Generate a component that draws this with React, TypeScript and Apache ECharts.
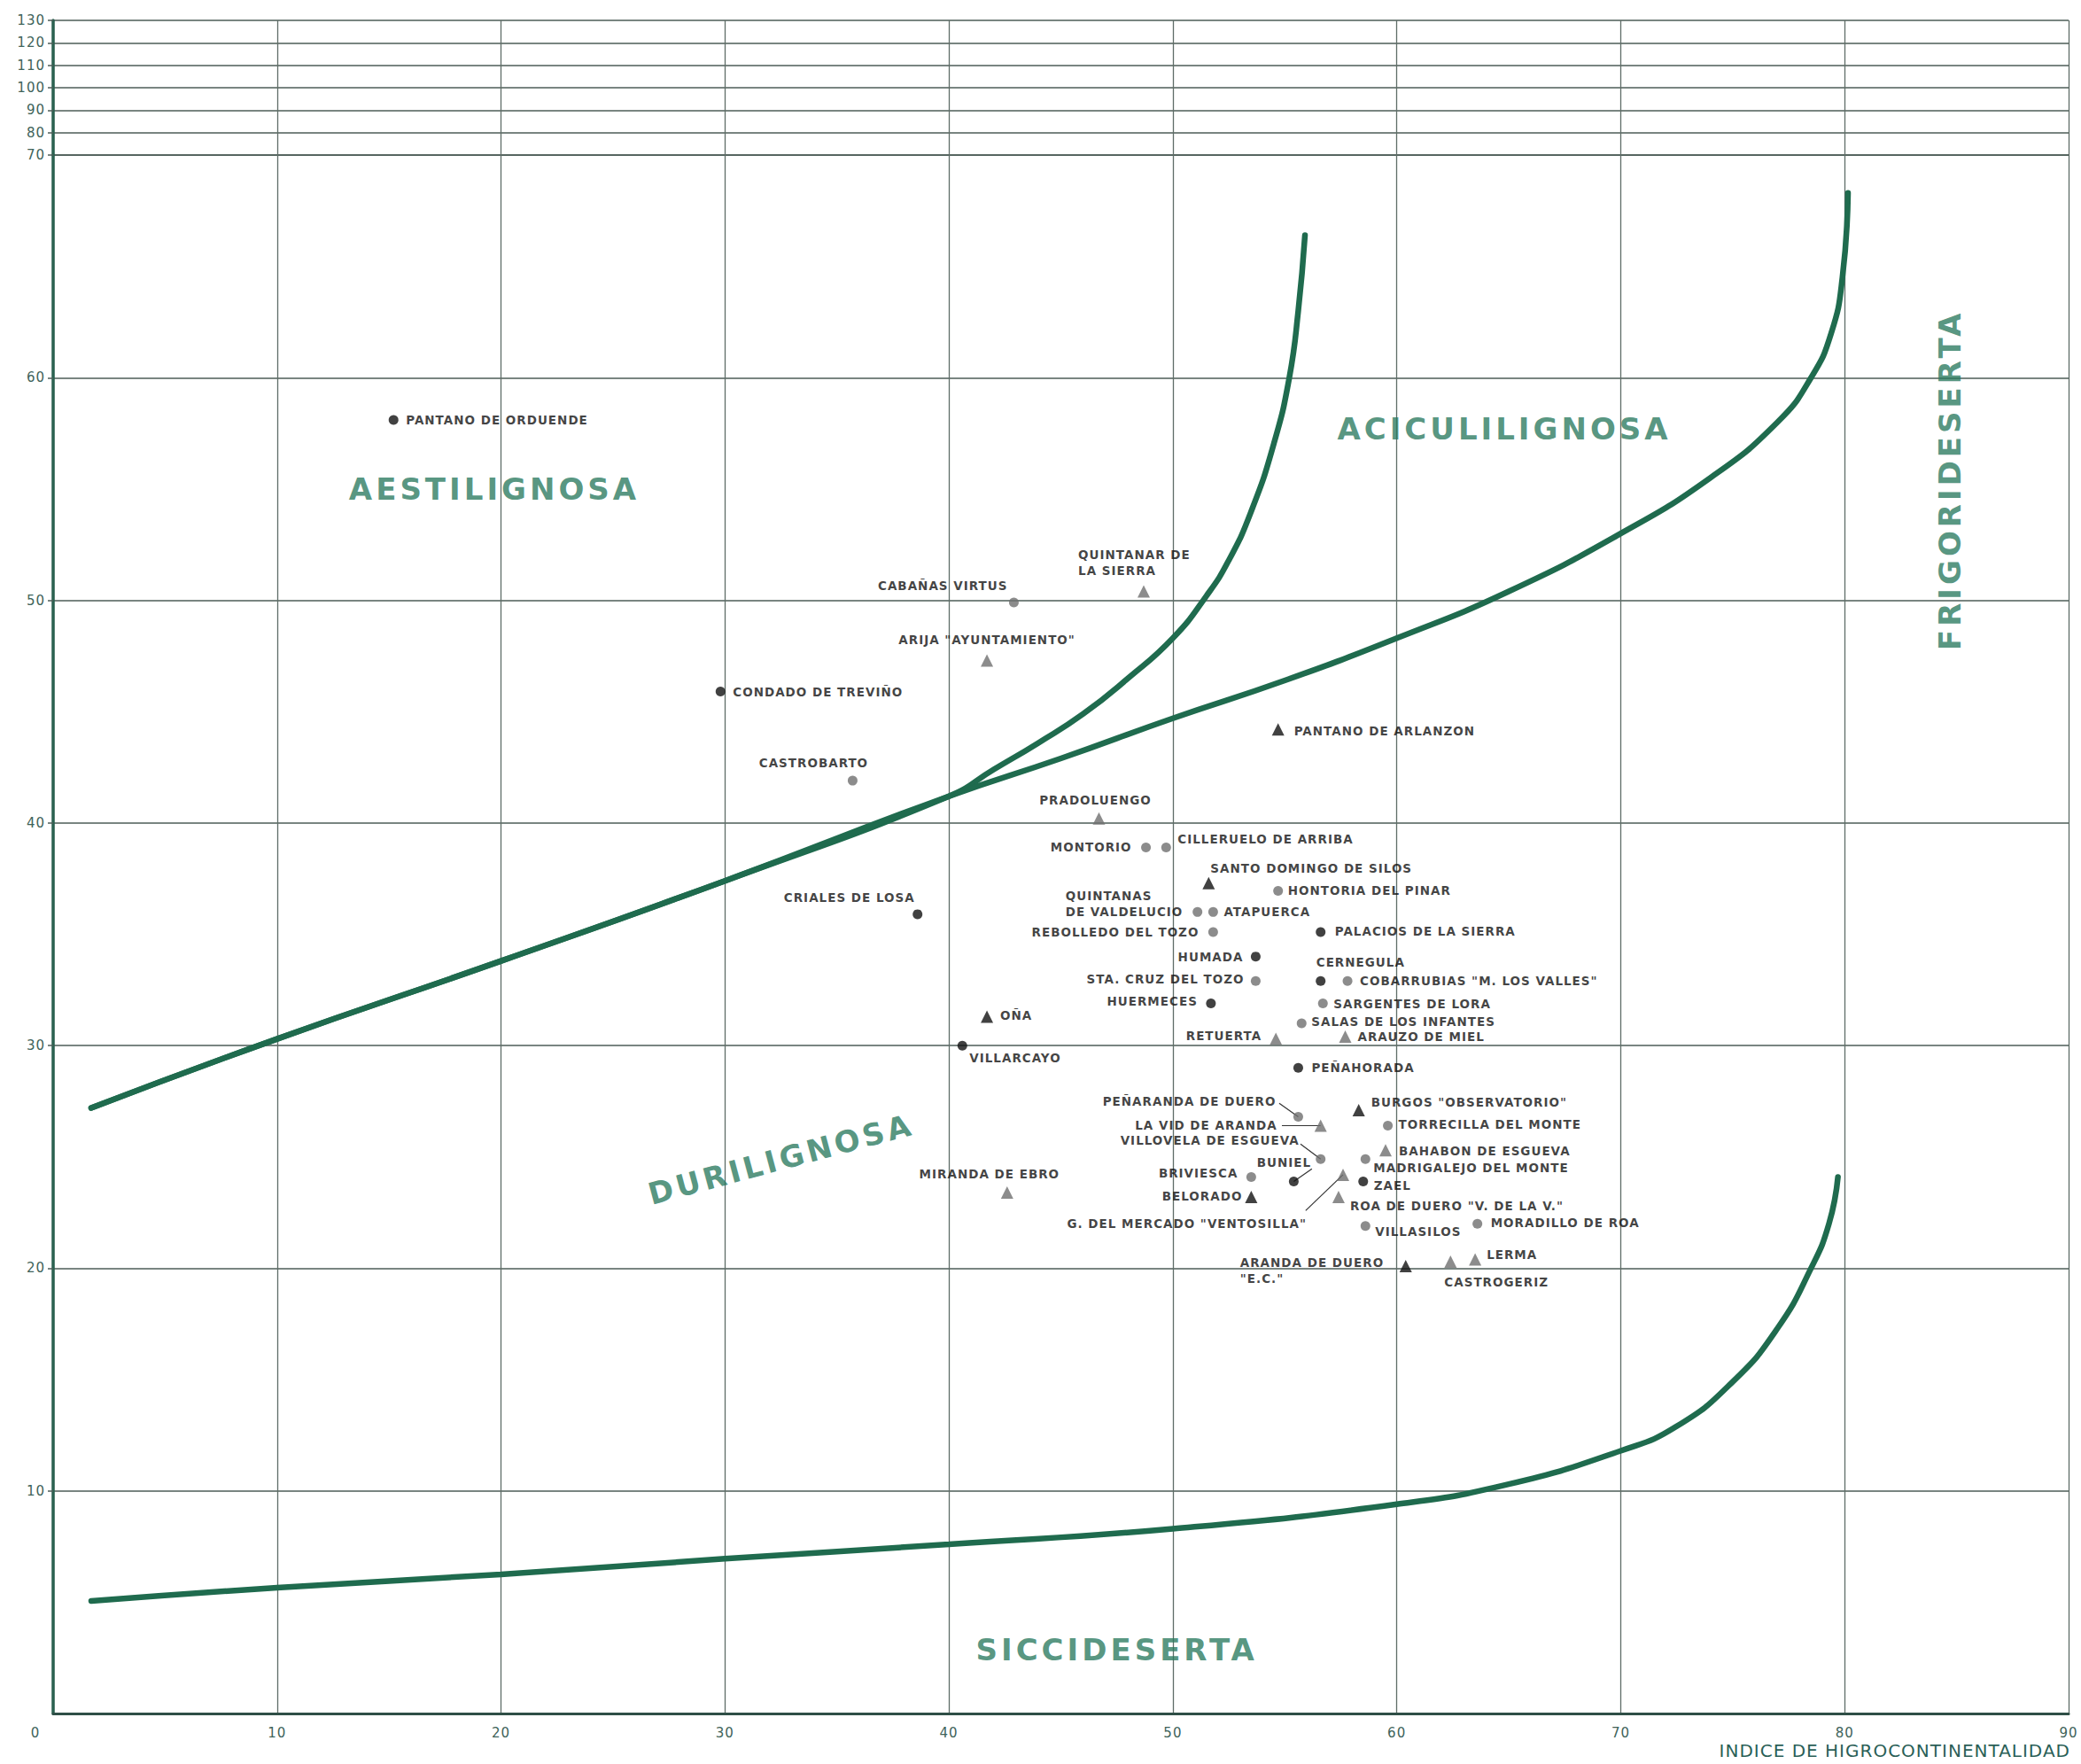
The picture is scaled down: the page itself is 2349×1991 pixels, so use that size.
import React, { useEffect, useRef } from 'react';
import * as echarts from 'echarts';

// ---------- DATA ----------
const stationNames = [
  'PANTANO DE ORDUENDE', 'CABAÑAS VIRTUS', 'QUINTANAR DE\nLA SIERRA', 'ARIJA "AYUNTAMIENTO"',
  'CONDADO DE TREVIÑO', 'CASTROBARTO', 'PANTANO DE ARLANZON', 'PRADOLUENGO',
  'MONTORIO', 'CILLERUELO DE ARRIBA', 'SANTO DOMINGO DE SILOS', 'HONTORIA DEL PINAR',
  'QUINTANAS\nDE VALDELUCIO', 'ATAPUERCA', 'REBOLLEDO DEL TOZO', 'PALACIOS DE LA SIERRA',
  'HUMADA', 'CERNEGULA', 'COBARRUBIAS "M. LOS VALLES"', 'STA. CRUZ DEL TOZO',
  'HUERMECES', 'SARGENTES DE LORA', 'SALAS DE LOS INFANTES', 'RETUERTA',
  'ARAUZO DE MIEL', 'OÑA', 'VILLARCAYO', 'CRIALES DE LOSA',
  'PEÑAHORADA', 'PEÑARANDA DE DUERO', 'BURGOS "OBSERVATORIO"', 'LA VID DE ARANDA',
  'TORRECILLA DEL MONTE', 'VILLOVELA DE ESGUEVA', 'BAHABON DE ESGUEVA', 'MADRIGALEJO DEL MONTE',
  'BUNIEL', 'BRIVIESCA', 'ZAEL', 'G. DEL MERCADO "VENTOSILLA"',
  'ROA DE DUERO "V. DE LA V."', 'BELORADO', 'VILLASILOS', 'MORADILLO DE ROA',
  'LERMA', 'CASTROGERIZ', 'ARANDA DE DUERO\n"E.C."', 'MIRANDA DE EBRO',
];
const stationX = [
  15.2, 42.9, 48.7, 41.7, 29.8, 35.7, 54.7, 46.7,
  48.8, 49.7, 51.6, 54.7, 51.1, 51.8, 51.8, 56.6,
  53.7, 56.6, 57.8, 53.7, 51.7, 56.7, 55.75, 54.6,
  57.7, 41.7, 40.6, 38.6, 55.6, 55.6, 58.3, 56.6,
  59.6, 56.6, 59.5, 58.6, 55.4, 53.5, 58.5, 57.6,
  57.4, 53.5, 58.6, 63.6, 63.5, 62.4, 60.4, 42.6,
];
const stationY = [
  58.1, 49.9, 50.4, 47.3, 45.9, 41.9, 44.2, 40.2,
  38.9, 38.9, 37.3, 36.95, 36.0, 36.0, 35.1, 35.1,
  34.0, 32.9, 32.9, 32.9, 31.9, 31.9, 31.0, 30.3,
  30.4, 31.3, 30.0, 35.9, 29.0, 26.8, 27.1, 26.4,
  26.4, 24.9, 25.3, 24.9, 23.9, 24.1, 23.9, 24.2,
  23.2, 23.2, 21.9, 22.0, 20.4, 20.3, 20.1, 23.4,
];
// bd = black dot, gd = grey dot, bt = black triangle, gt = grey triangle
const stationKind = [
  'bd', 'gd', 'gt', 'gt', 'bd', 'gd', 'bt', 'gt',
  'gd', 'gd', 'bt', 'gd', 'gd', 'gd', 'gd', 'bd',
  'bd', 'bd', 'gd', 'gd', 'bd', 'gd', 'gd', 'gt',
  'gt', 'bt', 'bd', 'bd', 'bd', 'gd', 'bt', 'gt',
  'gd', 'gd', 'gt', 'gd', 'bd', 'gd', 'bd', 'gt',
  'gt', 'bt', 'gd', 'gd', 'gt', 'gt', 'bt', 'gt',
];

// Boundary curves
const aciculiX = [1.7, 10, 20, 30, 40, 42, 44, 46, 48, 50, 51.5, 52.5, 53.5, 54.5, 55.2, 55.6, 55.9];
const aciculiY = [27.2, 30.3, 33.8, 37.4, 41.2, 42.4, 43.6, 44.9, 46.5, 48.3, 50.2, 51.8, 54.0, 57.0, 60.0, 63.0, 66.4];
const frigoriX = [1.7, 10, 20, 30, 40, 45, 50, 55, 60, 65, 70, 74, 77, 78.5, 79.4, 79.9, 80.15];
const frigoriY = [27.2, 30.3, 33.8, 37.4, 41.2, 42.9, 44.7, 46.4, 48.3, 50.4, 53.0, 55.5, 58.0, 60.0, 62.0, 64.5, 68.3];
const sicciX = [1.7, 10, 20, 30, 40, 50, 60, 65, 70, 72.5, 75, 77, 78.5, 79.3, 79.7];
const sicciY = [5.05, 5.65, 6.25, 6.95, 7.6, 8.3, 9.4, 10.3, 11.8, 12.9, 14.9, 17.3, 20.0, 22.0, 24.1];

// Region names
const regionNames = ['AESTILIGNOSA', 'ACICULILIGNOSA', 'DURILIGNOSA', 'SICCIDESERTA', 'FRIGORIDESERTA'];
const regionX = [19.7, 64.8, 32.5, 47.5, 84.7];
const regionY = [55.0, 57.7, 24.9, 2.86, 55.4];

// Leader lines (label end -> station)
const leaderStation = ['PEÑARANDA DE DUERO', 'LA VID DE ARANDA', 'VILLOVELA DE ESGUEVA', 'BUNIEL', 'G. DEL MERCADO "VENTOSILLA"'];
const leaderStartX = [54.75, 54.87, 55.7, 56.21, 55.93];
const leaderStartY = [27.41, 26.41, 25.58, 24.46, 22.59];

const xAxisTitle = 'INDICE DE HIGROCONTINENTALIDAD';

// ---------- STYLE ----------
const regionRotate = [0, 0, 15, 0, 90];
// label anchor offsets from marker centre [dx, dy, align]
const labelPlace: [number, number, string][] = [
  [14, 0, 'left'], [-7, -19, 'right'], [-74, -33, 'left'], [0, -23, 'center'],
  [14, 0, 'left'], [-44, -20, 'center'], [18, 2, 'left'], [-4, -21, 'center'],
  [-16, 0, 'right'], [13, -9, 'left'], [2, -17, 'left'], [11, 0, 'left'],
  [-149, -9, 'left'], [12, 0, 'left'], [-16, 0, 'right'], [16, -1, 'left'],
  [-14, 0, 'right'], [-5, -21, 'left'], [14, 0, 'left'], [-13, -2, 'right'],
  [-15, -2, 'right'], [12, 1, 'left'], [11, -2, 'left'], [-16, -4, 'right'],
  [14, 0, 'left'], [15, -1, 'left'], [8, 14, 'left'], [-3, -19, 'right'],
  [15, 0, 'left'], [-25, -18, 'right'], [14, -9, 'left'], [-49, -1, 'right'],
  [12, -2, 'left'], [-24, -21, 'right'], [15, 1, 'left'], [9, 10, 'left'],
  [-11, -21, 'center'], [-15, -4, 'right'], [12, 5, 'left'], [-41, 55, 'right'],
  [13, 10, 'left'], [-10, -1, 'right'], [11, 6, 'left'], [15, -1, 'left'],
  [13, -5, 'left'], [-7, 23, 'left'], [-187, 5, 'left'], [-20, -21, 'center'],
];

const GREEN = '#1f6b4e';
const REGION = '#2b7a5f';
const AXISTXT = '#40635a';
const FONT = 'DejaVu Sans';

function zip(xs: number[], ys: number[]) {
  return xs.map((x, i) => [x, ys[i]]);
}

function buildOption() {
  const stationData = stationNames.map((name, i) => {
    const tri = stationKind[i][1] === 't';
    const black = stationKind[i][0] === 'b';
    const [dx, dy, align] = labelPlace[i];
    return {
      name,
      value: [stationX[i], stationY[i]],
      symbol: tri ? 'triangle' : 'circle',
      symbolSize: tri ? 14 : 11,
      itemStyle: { color: black ? '#111111' : '#6f6f6f' },
      label: { position: ['50%', '50%'], offset: [dx, dy], align, verticalAlign: 'middle' },
    };
  });

  const regionData = regionNames.map((name, i) => ({
    name,
    value: [regionX[i], regionY[i]],
    label: { rotate: regionRotate[i] },
  }));

  const leaderData = leaderStation.map((st, i) => {
    const k = stationNames.indexOf(st);
    return { coords: [[leaderStartX[i], leaderStartY[i]], [stationX[k], stationY[k]]] };
  });

  const curve = (xs: number[], ys: number[], name: string) => ({
    type: 'line',
    name,
    xAxisIndex: 1,
    yAxisIndex: 1,
    data: zip(xs, ys),
    smooth: 0.5,
    symbol: 'none',
    silent: true,
    z: 2,
    lineStyle: { color: GREEN, width: 6.5, cap: 'round' },
  });

  const hLine = { color: '#4d5c57', width: 1.6 };
  const vLine = { color: '#5f6d68', width: 1.3 };

  return {
    animation: false,
    backgroundColor: '#ffffff',
    textStyle: { fontFamily: FONT },
    grid: [
      { left: 60, right: 14, top: 23, height: 152 },
      { left: 60, right: 14, top: 175, bottom: 57 },
    ],
    xAxis: [
      {
        gridIndex: 0, type: 'value', min: 0, max: 90, interval: 10,
        axisLine: { show: false }, axisTick: { show: false }, axisLabel: { show: false },
        splitLine: { show: true, lineStyle: vLine },
      },
      {
        gridIndex: 1, type: 'value', min: 0, max: 90, interval: 10,
        axisLine: { show: true, onZero: false, lineStyle: { color: '#2f4f47', width: 3 } },
        axisTick: { show: false },
        axisLabel: {
          color: AXISTXT, fontSize: 15, margin: 14, fontFamily: FONT,
          formatter: (v: number) => (v === 0 ? '{z|0}' : String(v)),
          rich: { z: { color: AXISTXT, fontSize: 15, fontFamily: FONT, padding: [0, 40, 0, 0] } },
        },
        splitLine: { show: true, lineStyle: vLine },
        name: xAxisTitle,
        nameLocation: 'end',
        nameGap: 2,
        nameTextStyle: {
          color: '#2b5f57', fontSize: 20, fontFamily: FONT,
          align: 'right', verticalAlign: 'top', padding: [32, 0, 0, 0],
        },
      },
    ],
    yAxis: [
      {
        gridIndex: 0, type: 'value', min: 70, max: 130, interval: 10,
        axisLine: { show: true, lineStyle: { color: '#2a6150', width: 3.5 } },
        axisTick: { show: true, length: 6, lineStyle: { color: '#4d5c57', width: 1.5 } },
        axisLabel: { color: AXISTXT, fontSize: 15, margin: 9, fontFamily: FONT },
        splitLine: { show: true, lineStyle: hLine },
      },
      {
        gridIndex: 1, type: 'value', min: 0, max: 70, interval: 10,
        axisLine: { show: true, onZero: false, lineStyle: { color: '#2a6150', width: 3.5 } },
        axisTick: { show: true, length: 6, lineStyle: { color: '#4d5c57', width: 1.5 } },
        axisLabel: { color: AXISTXT, fontSize: 15, margin: 9, fontFamily: FONT, showMinLabel: false, showMaxLabel: false },
        splitLine: { show: true, lineStyle: hLine },
      },
    ],
    series: [
      curve(aciculiX, aciculiY, 'aciculi'),
      curve(frigoriX, frigoriY, 'frigori'),
      curve(sicciX, sicciY, 'sicci'),
      {
        type: 'lines',
        coordinateSystem: 'cartesian2d',
        xAxisIndex: 1,
        yAxisIndex: 1,
        data: leaderData,
        symbol: 'none',
        silent: true,
        z: 3,
        lineStyle: { color: '#333333', width: 1.2, opacity: 1 },
      },
      {
        type: 'scatter',
        name: 'regions',
        xAxisIndex: 1,
        yAxisIndex: 1,
        data: regionData,
        symbolSize: 1,
        itemStyle: { color: 'rgba(0,0,0,0)' },
        silent: true,
        z: 4,
        label: {
          show: true, position: 'inside', formatter: '{b}',
          color: REGION, fontSize: 34, fontWeight: 'bold', fontFamily: FONT,
          align: 'center', verticalAlign: 'middle',
        },
      },
      {
        type: 'scatter',
        name: 'stations',
        xAxisIndex: 1,
        yAxisIndex: 1,
        data: stationData,
        silent: true,
        z: 5,
        label: {
          show: true, formatter: '{b}', color: '#111111', fontSize: 13.5, fontWeight: 'bold',
          fontFamily: FONT, lineHeight: 18,
        },
      },
    ],
  };
}

export default function App() {
  const ref = useRef<HTMLDivElement>(null);
  useEffect(() => {
    document.body.style.margin = '0';
    const styleEl = document.createElement('style');
    styleEl.textContent =
      '#root svg text { letter-spacing: 1px; } ' +
      '#root svg text[fill="' + REGION + '"], #root svg text[fill="rgb(43,122,95)"] { letter-spacing: 4px; }';
    document.head.appendChild(styleEl);
    const chart = echarts.init(ref.current as HTMLDivElement, null, { renderer: 'svg' });
    chart.setOption(buildOption() as any);
    return () => {
      chart.dispose();
      styleEl.remove();
    };
  }, []);
  return <div ref={ref} style={{ width: 2349, height: 1991 }} />;
}
